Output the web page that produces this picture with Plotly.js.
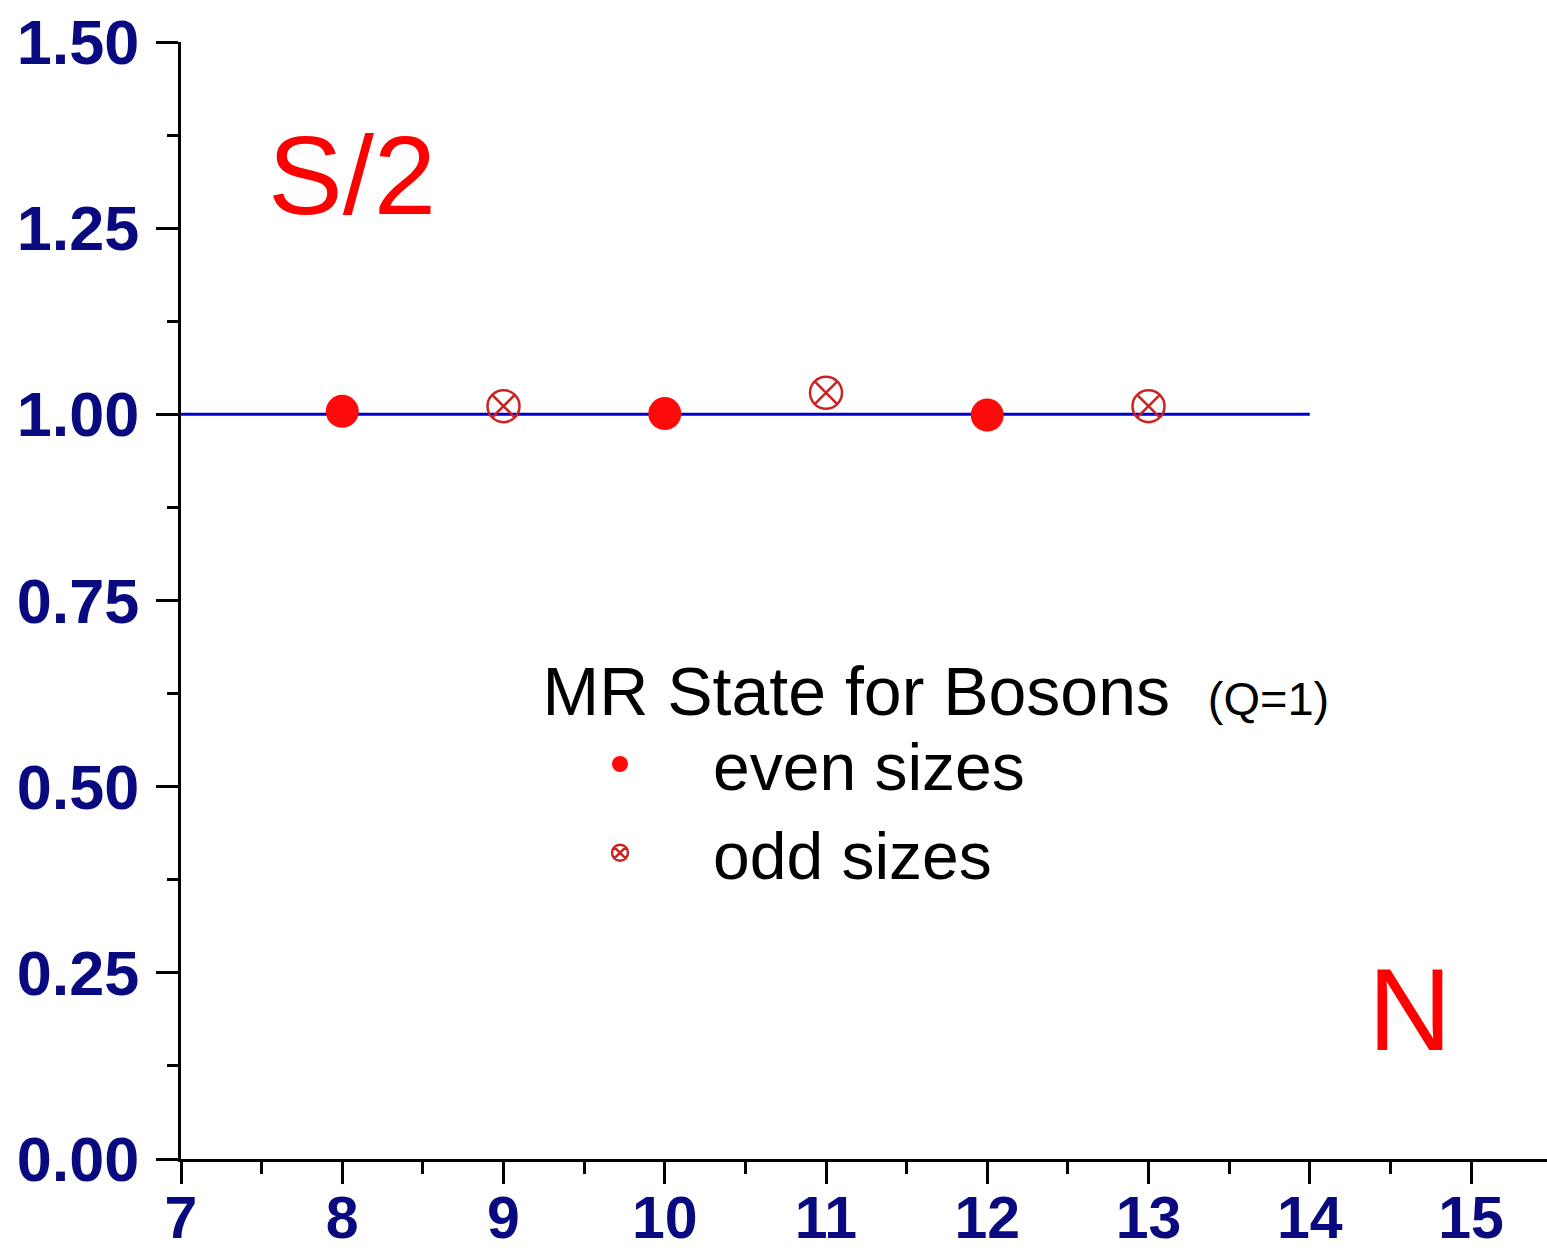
<!DOCTYPE html>
<html>
<head>
<meta charset="utf-8">
<script src="https://cdn.plot.ly/plotly-3.0.1.min.js"></script>
<style>html,body{margin:0;padding:0;background:#fff;}#chart{width:1547px;height:1252px;}</style>
</head>
<body>
<div id="chart"></div>
<script>
// Data
const evenN = [8, 10, 12];
const evenS = [1.004, 1.001, 0.999];
const oddN = [9, 11, 13];
const oddS = [1.011, 1.029, 1.011];
const refLineN = [7, 14];
const refLineS = [1, 1];
const yTickVals = [0, 0.25, 0.5, 0.75, 1.0, 1.25, 1.5];
const yTickText = ['0.00', '0.25', '0.50', '0.75', '1.00', '1.25', '1.50'];
const xTickVals = [7, 8, 9, 10, 11, 12, 13, 14, 15];

const FONT = 'Liberation Sans, Arial, sans-serif';
const NAVY = '#0a0a80';

const traces = [
  {
    x: refLineN, y: refLineS, mode: 'lines', type: 'scatter',
    line: {color: '#0000cc', width: 3}, showlegend: false, hoverinfo: 'skip'
  },
  {
    x: evenN, y: evenS, mode: 'markers', type: 'scatter', name: 'even sizes',
    marker: {symbol: 'circle', size: 33, color: '#ff0a0a', line: {width: 0}}
  },
  {
    x: oddN, y: oddS, mode: 'markers', type: 'scatter', name: 'odd sizes',
    marker: {symbol: 'circle-x-open', size: 32, color: '#cc2222', line: {width: 2.5, color: '#cc2222'}}
  }
];

const layout = {
  width: 1547, height: 1252,
  margin: {l: 181, r: 0, t: 42, b: 93, pad: 0},
  paper_bgcolor: '#fff', plot_bgcolor: '#fff',
  font: {family: FONT, color: '#000'},
  xaxis: {
    range: [7, 7 + 1366 / 161.25], autorange: false,
    showgrid: false, zeroline: false,
    showline: true, linecolor: '#000', linewidth: 3,
    ticks: 'outside', ticklen: 22, tickwidth: 3, tickcolor: '#000',
    tickmode: 'array', tickvals: xTickVals, ticktext: xTickVals.map(String),
    tickfont: {family: FONT, size: 59, color: NAVY, weight: 'bold'},
    ticklabelstandoff: -17,
    minor: {dtick: 0.5, ticks: 'outside', ticklen: 12, tickwidth: 3, tickcolor: '#000', showgrid: false}
  },
  yaxis: {
    range: [0, 1.5], autorange: false,
    showgrid: false, zeroline: false,
    showline: true, linecolor: '#000', linewidth: 3,
    ticks: 'outside', ticklen: 22, tickwidth: 3, tickcolor: '#000',
    tickmode: 'array', tickvals: yTickVals, ticktext: yTickText,
    tickfont: {family: FONT, size: 63, color: NAVY, weight: 'bold'},
    ticklabelstandoff: 4,
    minor: {dtick: 0.125, ticks: 'outside', ticklen: 11, tickwidth: 3, tickcolor: '#000', showgrid: false}
  },
  showlegend: true,
  legend: {
    x: (527 - 181) / 1366, y: 0.477, xanchor: 'left', yanchor: 'top',
    bgcolor: 'rgba(0,0,0,0)', borderwidth: 0,
    font: {family: FONT, size: 66, color: '#000'},
    title: {text: '&#8201;MR State for Bosons &nbsp;<span style="font-size:47px">(Q=1)</span>', font: {family: FONT, size: 68, color: '#000'}},
    itemwidth: 176, tracegroupgap: 0
  },
  annotations: [
    {text: 'S/2', xref: 'paper', yref: 'paper', x: (266 - 181) / 1366, y: (1159 - 175) / 1117,
     xanchor: 'left', yanchor: 'middle', showarrow: false,
     font: {family: FONT, size: 112, color: '#ff0000'}},
    {text: 'N', xref: 'paper', yref: 'paper', x: (1410 - 181) / 1366, y: (1159 - 1010) / 1117,
     xanchor: 'center', yanchor: 'middle', showarrow: false,
     font: {family: FONT, size: 116, color: '#ff0000'}}
  ]
};

Plotly.newPlot('chart', traces, layout, {displayModeBar: false, staticPlot: true});
</script>
</body>
</html>
